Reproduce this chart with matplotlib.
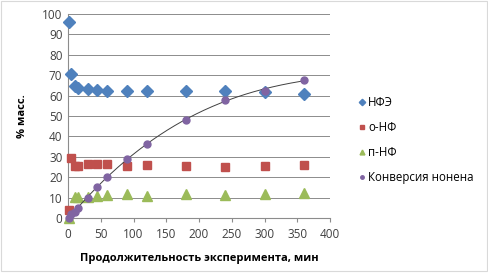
import numpy as np
import matplotlib
matplotlib.use("Agg")
import matplotlib.pyplot as plt

plt.rcParams['font.family'] = ['Open Sans', 'DejaVu Sans']

# time, min
times = [1, 5, 10, 15, 30, 45, 60, 90, 120, 180, 240, 300, 360]
nfe = [96, 70.5, 64.5, 63.5, 63, 62.7, 62.4, 62.1, 62.4, 62.1, 62.1, 62, 61]
o_nf = [4, 29.5, 25.5, 25.7, 26.3, 26.3, 26.3, 25.7, 26, 25.3, 25, 25.3, 26]
p_nf = [0, np.nan, 10.5, 10.5, 10.5, 11, 11.3, 11.6, 11, 11.6, 11.2, 12, 12.5]
conv = [0, 2, 3, 5, 10, 15, 20, 29, 36.5, 48, 58, 62.5, 67.5]

labels = ['НФЭ', 'о-НФ', 'п-НФ', 'Конверсия нонена']

fig = plt.figure(figsize=(4.89, 2.79), dpi=100)
ax = fig.add_axes([68 / 489, 1 - 218 / 279, 262 / 489, 204 / 279])

ax.plot(times, nfe, 'D', color='#4F81BD', ms=6.5, label=labels[0], zorder=3, clip_on=False)
ax.plot(times, o_nf, 's', color='#C0504D', ms=5.5, label=labels[1], zorder=3, clip_on=False)
ax.plot(times, p_nf, '^', color='#9BBB59', ms=7, label=labels[2], zorder=3, clip_on=False)
ax.plot(times, conv, 'o', color='#8064A2', ms=5, label=labels[3], zorder=4, clip_on=False)

# polynomial trend line for conversion (as in Excel)
coef = np.polyfit(times, conv, 3)
xs = np.linspace(0, 360, 200)
ax.plot(xs, np.polyval(coef, xs), color='#404040', lw=0.7, zorder=3, clip_on=False)

ax.set_xlim(0, 400)
ax.set_ylim(0, 100)
ax.set_xticks(range(0, 401, 50))
ax.set_yticks(range(0, 101, 10))
ax.yaxis.grid(True, color='#8c8c8c', lw=0.7)
ax.set_axisbelow(True)
for s in ['top', 'right']:
    ax.spines[s].set_visible(False)
ax.spines['left'].set_color('#8c8c8c')
ax.spines['bottom'].set_color('#8c8c8c')
ax.tick_params(labelsize=8.5, length=0, pad=4, colors='#404040')
ax.tick_params(axis='x', length=3, color='#8c8c8c')

ax.set_xlabel('Продолжительность эксперимента, мин', fontsize=8, fontweight='bold', labelpad=9)
ax.set_ylabel('% масс.', fontsize=8, fontweight='bold', labelpad=10)

ax.legend(loc='center left', bbox_to_anchor=(360 / 489, 1 - 140 / 279),
          bbox_transform=fig.transFigure, frameon=False, fontsize=8.3,
          handlelength=0.4, handletextpad=0.3, labelspacing=1.05, markerscale=0.5,
          borderaxespad=0, borderpad=0)

fig.patches.append(plt.Rectangle((0.002, 0.03), 0.994, 0.966, transform=fig.transFigure,
                                 fill=False, edgecolor='#d9d9d9', lw=0.8))

fig.savefig('out.png', dpi=100)
